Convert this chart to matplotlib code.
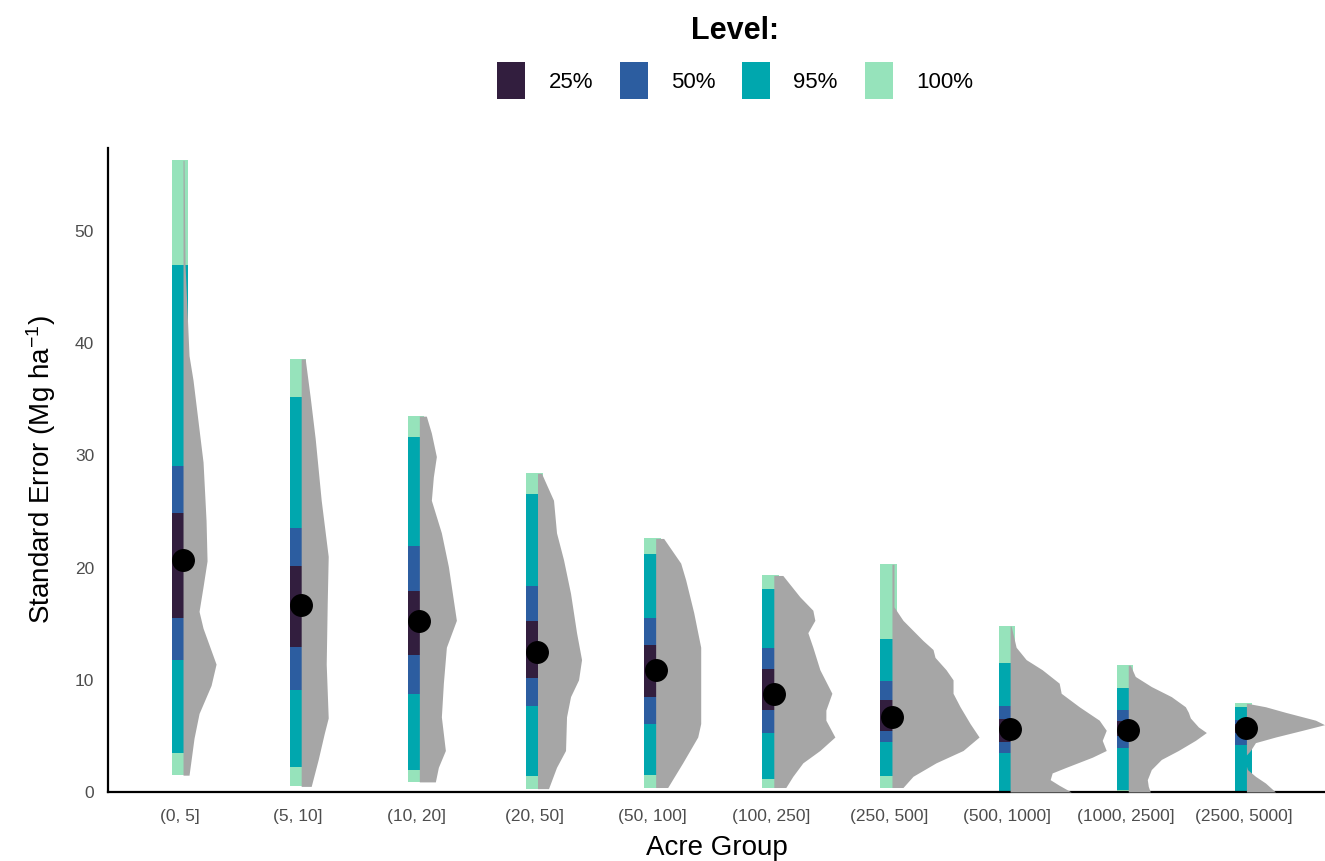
import numpy as np
import matplotlib
matplotlib.use("Agg")
import matplotlib.pyplot as plt
from matplotlib.patches import Patch

plt.rcParams['font.family'] = ['Liberation Sans', 'DejaVu Sans']
plt.rcParams['mathtext.default'] = 'regular'

# acre groups
categories = ['(0, 5]', '(5, 10]', '(10, 20]', '(20, 50]', '(50, 100]',
              '(100, 250]', '(250, 500]', '(500, 1000]', '(1000, 2500]', '(2500, 5000]']

medians = [20.7, 16.7, 15.2, 12.5, 10.9, 8.7, 6.7, 5.6, 5.5, 5.7]

# interval bounds per level
q25_lo = [15.5, 12.9, 12.2, 10.2, 8.5, 7.3, 5.4, 4.5, 5.0, 5.3]
q25_hi = [24.9, 20.1, 17.9, 15.2, 13.1, 11.0, 8.2, 6.5, 6.3, 6.1]
q50_lo = [11.8, 9.1, 8.7, 7.7, 6.1, 5.3, 4.5, 3.5, 3.9, 4.2]
q50_hi = [29.1, 23.5, 21.9, 18.4, 15.5, 12.8, 9.9, 7.7, 7.3, 6.4]
q95_lo = [3.5, 2.2, 2.0, 1.4, 1.5, 1.2, 1.4, 0.0, 0.15, 0.0]
q95_hi = [47.0, 35.2, 31.6, 26.6, 21.2, 18.1, 13.6, 11.5, 9.3, 7.6]
q100_lo = [1.5, 0.5, 0.9, 0.3, 0.4, 0.4, 0.4, 0.0, 0.0, 0.0]
q100_hi = [56.3, 38.6, 33.5, 28.4, 22.6, 19.3, 20.3, 14.8, 11.3, 7.9]

levels = ['25%', '50%', '95%', '100%']
level_colors = ['#321E3E', '#2C5DA0', '#00A7AE', '#96E3BB']

# slab (density) outlines: y value, relative density
dens_y = [
    [56.3, 47.0, 38.9, 36.7, 29.4, 24.2, 20.6, 18.3, 16.1, 14.6, 11.4, 9.5, 7.0, 4.8, 1.5],
    [38.6, 35.2, 31.5, 26.0, 21.0, 16.8, 11.4, 6.6, 5.2, 2.9, 0.5],
    [33.5, 32.0, 29.9, 28.1, 26.0, 23.1, 20.1, 17.1, 15.3, 12.9, 9.7, 6.7, 3.7, 2.2, 0.9],
    [28.4, 26.0, 23.1, 20.7, 17.7, 14.2, 11.8, 10.0, 8.5, 6.7, 3.7, 2.2, 0.3],
    [22.6, 20.4, 18.9, 16.0, 12.9, 10.0, 6.1, 4.9, 2.6, 0.4],
    [19.3, 17.4, 16.2, 15.3, 14.2, 12.9, 10.9, 8.8, 7.3, 6.4, 4.9, 3.7, 2.6, 1.4, 0.4],
    [20.3, 16.5, 15.3, 13.5, 12.7, 12.0, 10.9, 10.0, 8.8, 7.6, 6.1, 4.9, 3.7, 2.6, 1.4, 0.4],
    [14.8, 12.9, 11.8, 10.9, 9.7, 8.8, 7.6, 6.4, 5.5, 4.6, 3.7, 3.1, 2.2, 1.7, 1.1, 0.6, 0.0],
    [11.3, 10.3, 9.4, 8.5, 7.6, 7.1, 6.6, 5.8, 5.3, 4.6, 3.7, 2.9, 2.0, 1.1, 0.5, 0.0],
    [7.9, 7.6, 7.1, 6.4, 6.0, 5.5, 4.9, 4.4, 3.7, 3.3, 2.3, 2.0, 1.4, 0.8, 0.0],
]
dens_w = [
    [1, 2, 6, 10, 20, 23, 24, 20, 16, 20, 33, 28, 16, 11, 6],
    [4, 9, 14, 20, 27, 26, 25, 27, 23, 17, 10],
    [7, 12, 17, 14, 12, 22, 29, 34, 37, 27, 24, 22, 26, 19, 16],
    [4, 16, 19, 26, 33, 39, 44, 41, 33, 29, 28, 19, 11],
    [8, 25, 30, 38, 45, 45, 45, 42, 27, 12],
    [9, 26, 39, 41, 34, 39, 46, 58, 52, 52, 61, 46, 29, 19, 12],
    [2, 2, 11, 31, 41, 43, 54, 61, 61, 68, 78, 87, 71, 44, 21, 11],
    [1, 6, 16, 32, 49, 51, 69, 89, 96, 92, 96, 82, 56, 42, 40, 49, 61],
    [2, 7, 23, 43, 57, 60, 62, 70, 78, 67, 50, 33, 23, 19, 20, 22],
    [1, 19, 39, 69, 78, 56, 29, 9, 4, 0, 0, 1, 9, 19, 29],
]
slab_scale = 1 / 118.0

fig = plt.figure(figsize=(13.25, 8.61), dpi=100)
ax = fig.add_axes([108 / 1325, 69 / 861, 1 - 108 / 1325, (792 - 148) / 861])

xpos = np.arange(1, len(categories) + 1)
base = xpos + 0.025

# interval bars, widest first
bounds = [(q100_lo, q100_hi), (q95_lo, q95_hi), (q50_lo, q50_hi), (q25_lo, q25_hi)]
for (lo, hi), col in zip(bounds, level_colors[::-1]):
    lo = np.array(lo)
    hi = np.array(hi)
    ax.bar(base - 0.097, hi - lo, bottom=lo, width=0.14, align='edge',
           color=col, linewidth=0, zorder=2)

# half-eye densities
for b, yy, ww in zip(base, dens_y, dens_w):
    yy = np.array(yy)
    ww = np.array(ww) * slab_scale
    ax.fill_betweenx(yy, b, b + ww, color='#A6A6A6', linewidth=0, zorder=3)

ax.plot(base, medians, 'o', color='black', ms=15.5, zorder=4)

ax.set_xlim(0.39, 10.69)
ax.set_ylim(0, 57.4)
ax.set_xticks(xpos)
ax.set_xticklabels(categories)
ax.set_yticks([0, 10, 20, 30, 40, 50])
ax.tick_params(axis='both', length=0, labelsize=12.5, labelcolor='#4D4D4D')
ax.tick_params(axis='x', pad=12)
ax.tick_params(axis='y', pad=10)
for s in ['top', 'right']:
    ax.spines[s].set_visible(False)
for s in ['left', 'bottom']:
    ax.spines[s].set_linewidth(1.6)
    ax.spines[s].set_color('black')

ax.set_xlabel('Acre Group', fontsize=20, labelpad=8)
ax.set_ylabel('Standard Error (Mg ha$^{-1}$)', fontsize=20, labelpad=12)

handles = [Patch(facecolor=c, edgecolor='none', label=l) for c, l in zip(level_colors, levels)]
leg = fig.legend(handles=handles, loc='upper center', bbox_to_anchor=(735 / 1325, 1.0),
                 ncol=4, frameon=False, fontsize=16, title='Level:',
                 title_fontproperties={'size': 22, 'weight': 'bold'},
                 handlelength=1.26, handleheight=2.2, handletextpad=1.05,
                 columnspacing=1.2, labelspacing=0.75, borderpad=0.2)

fig.savefig('out.png', dpi=100)
